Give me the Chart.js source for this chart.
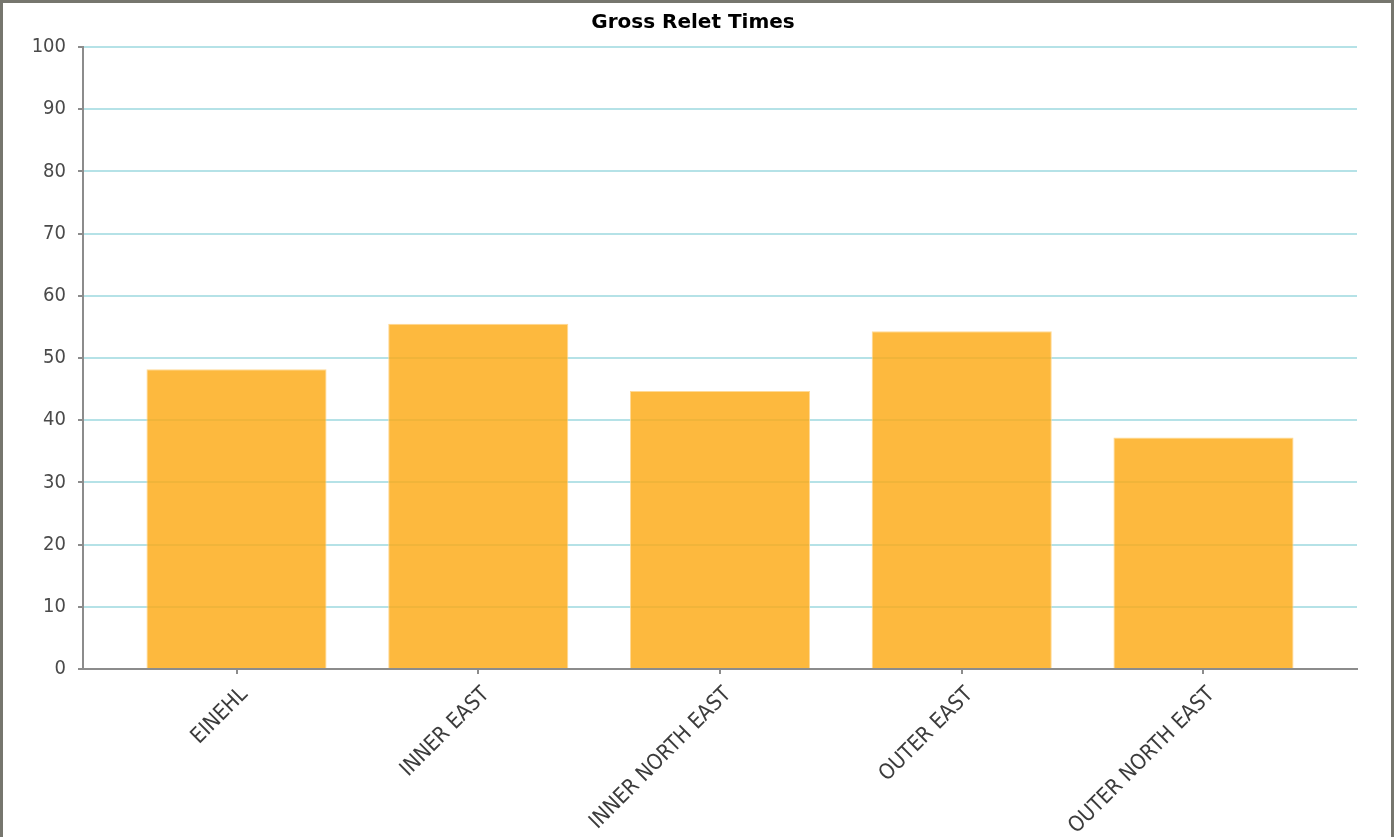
<!DOCTYPE html>
<html>
<head>
<meta charset="utf-8">
<title>Gross Relet Times</title>
<script src="https://cdn.jsdelivr.net/npm/chart.js@4.4.1/dist/chart.umd.min.js"></script>
<style>
  html, body { margin: 0; padding: 0; background: #fff; overflow: hidden; }
  #marco {
    position: absolute; left: 0; top: 0;
    width: 1388px; height: 850px;
    border: 3px solid #76766e;
    background: #fff;
  }
  #lienzo { display: block; }
</style>
</head>
<body>
<div id="marco">
  <canvas id="lienzo" width="1380" height="834"></canvas>
</div>
<script>
// Datos del gráfico
const categorias = ['EINEHL', 'INNER EAST', 'INNER NORTH EAST', 'OUTER EAST', 'OUTER NORTH EAST'];
const diasRelet = [48.2, 55.5, 44.7, 54.3, 37.2];
const ticksY = [0, 10, 20, 30, 40, 50, 60, 70, 80, 90, 100];

const fuente = '"DejaVu Sans Condensed", "DejaVu Sans", sans-serif';
const ctx = document.getElementById('lienzo').getContext('2d');

const myChart = new Chart(ctx, {
    type: 'bar',
    data: {
      datasets: [{
        label: 'Gross Relet Times',
        data: diasRelet.map((v, i) => ({ x: i, y: v })),
        backgroundColor: 'rgba(252, 170, 20, 0.82)',
        borderColor: 'rgba(255, 214, 140, 0.9)',
        borderWidth: 1,
        barPercentage: 0.745,
        categoryPercentage: 1
      }]
    },
    options: {
      responsive: false,
      animation: false,
      plugins: {
        legend: { display: false },
        tooltip: { enabled: false },
        title: {
          display: true,
          text: 'Gross Relet Times',
          color: '#000',
          font: { family: '"DejaVu Sans", sans-serif', size: 20, weight: 'bold' },
          padding: { top: 8, bottom: 12 }
        }
      },
      scales: {
        x: {
          type: 'linear',
          min: -0.635,
          max: 4.635,
          offset: false,
          afterBuildTicks: (scale) => {
            scale.ticks = categorias.map((c, i) => ({ value: i }));
          },
          afterFit: (scale) => { scale.height = 168; },
          ticks: {
            autoSkip: false,
            minRotation: 45,
            maxRotation: 45,
            padding: 8,
            labelOffset: 8,
            color: '#3c3c3c',
            font: { family: fuente, size: 21.5 },
            callback: (v) => categorias[v]
          },
          grid: {
            offset: false,
            drawOnChartArea: false,
            drawTicks: true,
            tickLength: 5,
            tickColor: '#8c8c8c',
            lineWidth: 2
          },
          border: { color: '#8c8c8c', width: 2 }
        },
        y: {
          min: 0,
          max: 100,
          afterBuildTicks: (scale) => {
            scale.ticks = ticksY.map(v => ({ value: v }));
          },
          afterFit: (scale) => { scale.width = 80; },
          ticks: {
            padding: 12,
            color: '#4a4a4a',
            font: { family: fuente, size: 20 }
          },
          grid: {
            color: '#b5e2e7',
            lineWidth: 2,
            tickLength: 5,
            tickColor: '#8c8c8c'
          },
          border: { color: '#8c8c8c', width: 2 }
        },
        // eje vacío a la derecha, solo para dejar el margen
        margen: {
          position: 'right',
          afterFit: (scale) => { scale.width = 26; },
          ticks: { display: false },
          grid: { display: false },
          border: { display: false }
        }
      }
    }
});
</script>
</body>
</html>
